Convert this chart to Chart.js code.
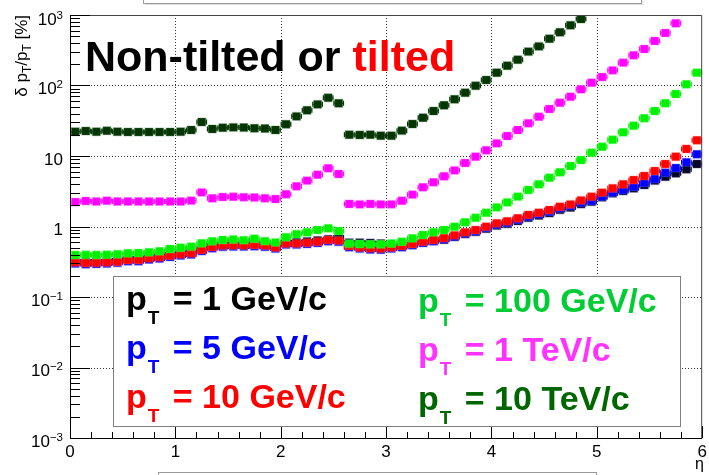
<!DOCTYPE html>
<html>
<head>
<meta charset="utf-8">
<title>Momentum resolution vs eta</title>
<script src="https://cdn.jsdelivr.net/npm/chart.js@4.4.1/dist/chart.umd.min.js"></script>
<style>
  html, body { margin: 0; padding: 0; background: #ffffff; }
  canvas { display: block; }
</style>
</head>
<body>
<canvas id="res" width="709" height="475"></canvas>
<script>
// eta bin centres (bin width 0.1)
const etaBins = [
  0.05, 0.15, 0.25, 0.35, 0.45, 0.55, 0.65, 0.75, 0.85, 0.95,
  1.05, 1.15, 1.25, 1.35, 1.45, 1.55, 1.65, 1.75, 1.85, 1.95,
  2.05, 2.15, 2.25, 2.35, 2.45, 2.55, 2.65, 2.75, 2.85, 2.95,
  3.05, 3.15, 3.25, 3.35, 3.45, 3.55, 3.65, 3.75, 3.85, 3.95,
  4.05, 4.15, 4.25, 4.35, 4.45, 4.55, 4.65, 4.75, 4.85, 4.95,
  5.05, 5.15, 5.25, 5.35, 5.45, 5.55, 5.65, 5.75, 5.85, 5.95
];
const etaHalfWidth = 0.05;

// relative pT resolution in percent, one array per pT value
const res1GeV = [
  0.322, 0.315, 0.318, 0.322, 0.330, 0.349, 0.349, 0.369, 0.381, 0.401,
  0.420, 0.434, 0.484, 0.533, 0.557, 0.562, 0.562, 0.569, 0.557, 0.526,
  0.598, 0.598, 0.613, 0.633, 0.660, 0.700, 0.590, 0.590, 0.585, 0.575,
  0.515, 0.525, 0.555, 0.595, 0.628, 0.650, 0.710, 0.780, 0.840, 0.930,
  1.03, 1.09, 1.20, 1.33, 1.43, 1.55, 1.72, 1.86, 2.08, 2.25,
  2.60, 2.96, 3.19, 3.48, 3.88, 4.47, 5.08, 5.68, 6.48, 7.70
];
const res5GeV = [
  0.298, 0.292, 0.294, 0.298, 0.305, 0.322, 0.322, 0.340, 0.352, 0.370,
  0.388, 0.401, 0.447, 0.492, 0.514, 0.519, 0.519, 0.526, 0.514, 0.486,
  0.553, 0.553, 0.566, 0.585, 0.619, 0.606, 0.508, 0.486, 0.472, 0.467,
  0.486, 0.508, 0.543, 0.585, 0.619, 0.659, 0.720, 0.795, 0.856, 0.953,
  1.06, 1.13, 1.25, 1.39, 1.49, 1.62, 1.81, 1.95, 2.18, 2.30,
  2.65, 3.02, 3.30, 3.67, 4.18, 4.72, 5.80, 6.76, 8.14, 10.6
];
const res10GeV = [
  0.310, 0.303, 0.305, 0.310, 0.317, 0.335, 0.335, 0.354, 0.366, 0.385,
  0.403, 0.417, 0.465, 0.512, 0.535, 0.540, 0.540, 0.547, 0.535, 0.505,
  0.575, 0.575, 0.589, 0.608, 0.644, 0.630, 0.528, 0.505, 0.491, 0.486,
  0.505, 0.528, 0.565, 0.608, 0.644, 0.685, 0.750, 0.828, 0.892, 0.993,
  1.11, 1.185, 1.31, 1.46, 1.57, 1.71, 1.91, 2.06, 2.35, 2.65,
  3.02, 3.48, 3.97, 4.57, 5.20, 6.12, 7.70, 9.78, 12.6, 16.7
];
const res100GeV = [
  0.394, 0.397, 0.394, 0.397, 0.405, 0.417, 0.420, 0.431, 0.446, 0.480,
  0.500, 0.518, 0.578, 0.617, 0.644, 0.655, 0.640, 0.671, 0.620, 0.595,
  0.705, 0.780, 0.828, 0.892, 0.943, 0.863, 0.571, 0.565, 0.560, 0.560,
  0.575, 0.608, 0.680, 0.757, 0.828, 0.892, 0.993, 1.146, 1.33, 1.57,
  1.87, 2.20, 2.65, 3.30, 3.97, 4.92, 5.87, 7.21, 8.77, 11.1,
  13.5, 17.0, 21.7, 26.9, 34.3, 43.5, 55.9, 75.7, 104, 152
];
const res1TeV = [
  2.22, 2.30, 2.26, 2.32, 2.26, 2.26, 2.26, 2.26, 2.26, 2.26,
  2.26, 2.33, 3.05, 2.51, 2.62, 2.64, 2.60, 2.58, 2.51, 2.45,
  2.87, 3.72, 4.47, 5.43, 6.70, 5.56, 2.09, 2.06, 2.09, 2.06,
  2.06, 2.32, 2.83, 3.60, 4.24, 5.15, 6.26, 7.96, 9.78, 12.05,
  15.1, 19.2, 23.4, 29.1, 36.1, 46.4, 57.0, 69.3, 88.3, 109.6,
  132, 164, 211, 268, 329, 428, 556, 762, null, null
];
const res10TeV = [
  22.1, 22.6, 22.1, 22.8, 22.1, 21.9, 21.9, 21.9, 21.9, 21.9,
  22.1, 23.4, 30.3, 24.2, 25.2, 25.5, 25.3, 24.7, 24.6, 23.4,
  28.2, 36.5, 44.5, 54.0, 67.0, 55.9, 20.0, 19.9, 20.0, 19.4,
  19.4, 22.9, 28.4, 34.9, 43.4, 52.4, 63.7, 79.0, 99.0, 119.7,
  152, 191, 232, 302, 359, 461, 569, 714, 877, null,
  null, null, null, null, null, null, null, null, null, null
];

// legend entries: pT value text
const legendLeft = ['1 GeV/c', '5 GeV/c', '10 GeV/c'];
const legendRight = ['100 GeV/c', '1 TeV/c', '10 TeV/c'];

// axis ticks
const xMajorTicks = [0, 1, 2, 3, 4, 5, 6];
const xTickLabels = ['0', '1', '2', '3', '4', '5', '6'];
const yDecades = [1e-3, 1e-2, 1e-1, 1, 10, 100, 1000];
const yTickLabels = [['10', '\u22123'], ['10', '\u22122'], ['10', '\u22121'], ['1', ''], ['10', ''], ['10', '2'], ['10', '3']];

const FONT = '"Liberation Sans", Arial, Helvetica, sans-serif';

// series drawn in this order: first one lies underneath
const seriesDefs = [
  { label: 'pT = 1 GeV/c',   values: res1GeV,   color: '#06062a', halo: 'rgba(60,60,120,0.35)',  text: '#000000' },
  { label: 'pT = 5 GeV/c',   values: res5GeV,   color: '#0000ff', halo: 'rgba(90,90,255,0.35)',  text: '#0000ff' },
  { label: 'pT = 10 GeV/c',  values: res10GeV,  color: '#ff0000', halo: 'rgba(255,90,90,0.35)',  text: '#ff0000' },
  { label: 'pT = 100 GeV/c', values: res100GeV, color: '#00f000', halo: 'rgba(90,255,90,0.35)',  text: '#00cc33' },
  { label: 'pT = 1 TeV/c',   values: res1TeV,   color: '#ff00ff', halo: 'rgba(255,110,255,0.35)', text: '#ff33ff' },
  { label: 'pT = 10 TeV/c',  values: res10TeV,  color: '#033503', halo: 'rgba(60,110,60,0.35)',  text: '#006600' }
];

const datasets = seriesDefs.map((s, i) => ({
  label: s.label,
  data: etaBins.map((eta, k) => ({ x: eta, y: s.values[k] })),
  showLine: false,
  pointStyle: 'rect',
  pointRadius: 5.6,
  pointHoverRadius: 5.6,
  pointBackgroundColor: s.color,
  pointBorderColor: s.halo,
  pointBorderWidth: 1.2,
  order: seriesDefs.length - i,
  barColor: s.color
}));

// draw rich text made of [text, size, dy, weight, extraGap] pieces
function richWidth(ctx, parts) {
  let w = 0;
  for (const p of parts) {
    ctx.font = `${p[3] || 'normal'} ${p[1]}px ${FONT}`;
    w += ctx.measureText(p[0]).width + (p[4] || 0);
  }
  return w;
}
function richText(ctx, x, y, parts, align, color) {
  const w = richWidth(ctx, parts);
  let cx = align === 'right' ? x - w : align === 'center' ? x - w / 2 : x;
  ctx.fillStyle = color;
  ctx.textBaseline = 'alphabetic';
  ctx.textAlign = 'left';
  for (const p of parts) {
    ctx.font = `${p[3] || 'normal'} ${p[1]}px ${FONT}`;
    ctx.fillText(p[0], cx, y + p[2]);
    cx += ctx.measureText(p[0]).width + (p[4] || 0);
  }
}

// horizontal bin-width bars behind each marker
const binBars = {
  id: 'binBars',
  beforeDatasetDraw(chart, args) {
    const ctx = chart.ctx;
    const ds = chart.data.datasets[args.index];
    const xs = chart.scales.x, ys = chart.scales.y;
    const area = chart.chartArea;
    ctx.save();
    ctx.beginPath();
    ctx.rect(area.left, area.top, area.right - area.left, area.bottom - area.top);
    ctx.clip();
    ctx.strokeStyle = ds.barColor;
    ctx.lineWidth = 1.3;
    for (const pt of ds.data) {
      if (pt.y == null) continue;
      const x1 = xs.getPixelForValue(pt.x - etaHalfWidth);
      const x2 = xs.getPixelForValue(pt.x + etaHalfWidth);
      const y = ys.getPixelForValue(pt.y);
      ctx.beginPath();
      ctx.moveTo(x1, y); ctx.lineTo(x2, y);
      ctx.moveTo(x1 + 0.5, y - 2.5); ctx.lineTo(x1 + 0.5, y + 2.5);
      ctx.moveTo(x2 - 0.5, y - 2.5); ctx.lineTo(x2 - 0.5, y + 2.5);
      ctx.stroke();
    }
    ctx.restore();
  }
};

// frame, grid, ticks, labels and annotations
const frameDecor = {
  id: 'frameDecor',
  beforeDatasetsDraw(chart) {
    const ctx = chart.ctx;
    const xs = chart.scales.x, ys = chart.scales.y;
    const a = chart.chartArea;
    ctx.save();
    ctx.strokeStyle = 'rgba(0,0,0,0.8)';
    ctx.lineWidth = 1;
    ctx.setLineDash([1, 2]);
    for (const v of xMajorTicks) {
      if (v <= xs.min || v >= xs.max) continue;
      const px = Math.round(xs.getPixelForValue(v)) + 0.5;
      ctx.beginPath(); ctx.moveTo(px, a.top); ctx.lineTo(px, a.bottom); ctx.stroke();
    }
    for (const v of yDecades) {
      if (v <= ys.min || v >= ys.max) continue;
      const py = Math.round(ys.getPixelForValue(v)) + 0.5;
      ctx.beginPath(); ctx.moveTo(a.left, py); ctx.lineTo(a.right, py); ctx.stroke();
    }
    ctx.restore();
  },
  afterDatasetsDraw(chart) {
    const ctx = chart.ctx;
    const xs = chart.scales.x, ys = chart.scales.y;
    const a = chart.chartArea;
    ctx.save();
    // frame
    ctx.lineWidth = 1;
    ctx.strokeStyle = '#444';
    ctx.beginPath();
    ctx.moveTo(a.left, a.top + 0.5); ctx.lineTo(a.right - 0.5, a.top + 0.5); ctx.lineTo(a.right - 0.5, a.bottom);
    ctx.stroke();
    ctx.strokeStyle = '#000';
    ctx.beginPath();
    ctx.moveTo(a.left + 0.5, a.top); ctx.lineTo(a.left + 0.5, a.bottom + 0.5); ctx.lineTo(a.right, a.bottom + 0.5);
    ctx.stroke();

    // x ticks: major every 1, minor every 0.2
    ctx.beginPath();
    for (let i = 0; i <= 30; i++) {
      const v = i * 0.2;
      const px = Math.round(xs.getPixelForValue(v)) + 0.5;
      const len = (i % 5 === 0) ? 12 : 6;
      ctx.moveTo(px, a.bottom); ctx.lineTo(px, a.bottom - len);
    }
    ctx.stroke();

    // y ticks: decades and 2..9 subdivisions
    ctx.beginPath();
    for (const d of yDecades) {
      for (let m = 1; m <= 9; m++) {
        const v = d * m;
        if (v > ys.max * 1.0001) break;
        const py = Math.round(ys.getPixelForValue(v)) + 0.5;
        const len = m === 1 ? 20 : 10;
        ctx.moveTo(a.left, py); ctx.lineTo(a.left + len, py);
      }
    }
    ctx.stroke();

    // x tick labels
    xMajorTicks.forEach((v, i) => {
      richText(ctx, xs.getPixelForValue(v), 456.5, [[xTickLabels[i], 17, 0]], 'center', '#000');
    });
    // y tick labels
    yDecades.forEach((v, i) => {
      const py = ys.getPixelForValue(v);
      const lab = yTickLabels[i];
      const base = py + (i === yDecades.length - 1 ? 10 : 8.5);
      const parts = [[lab[0], 17, 0]];
      if (lab[1]) parts.push([lab[1], 11.5, -6]);
      richText(ctx, 63, base, parts, 'right', '#000');
    });
    ctx.restore();
  },
  afterDraw(chart) {
    const ctx = chart.ctx;
    ctx.save();

    // boxes peeking in at the top and bottom edges
    ctx.strokeStyle = '#9a9a9a';
    ctx.lineWidth = 1;
    ctx.strokeRect(143.5, -5, 498, 8.5);
    ctx.strokeStyle = '#dcdcdc';
    ctx.beginPath(); ctx.moveTo(145, 4.5); ctx.lineTo(643, 4.5); ctx.lineTo(643, -1); ctx.stroke();
    ctx.strokeStyle = '#9a9a9a';
    ctx.strokeRect(158.5, 472.5, 438, 10);

    // legend box
    ctx.fillStyle = '#ffffff';
    ctx.fillRect(113.5, 276.5, 567, 150);
    ctx.strokeStyle = '#808080';
    ctx.strokeRect(113.5, 276.5, 567, 150);

    const rowsL = [309.5, 358.5, 407.5];
    const rowsR = [311.5, 360.5, 409.5];
    const entry = (x, y, val, color) => {
      richText(ctx, x, y, [
        ['p', 34, 0, 'bold', 1],
        ['T', 19, 14, 'bold', 4],
        [' = ' + val, 34, 0, 'bold']
      ], 'left', color);
    };
    legendLeft.forEach((t, i) => entry(126, rowsL[i], t, seriesDefs[i].text));
    legendRight.forEach((t, i) => entry(418, rowsR[i], t, seriesDefs[i + 3].text));

    // headline
    ctx.font = `bold 43px ${FONT}`;
    ctx.textBaseline = 'alphabetic';
    ctx.textAlign = 'left';
    ctx.fillStyle = '#000000';
    const head1 = 'Non-tilted or ';
    ctx.fillText(head1, 85, 71);
    ctx.fillStyle = '#ff0000';
    ctx.fillText('tilted', 85 + ctx.measureText(head1).width, 71);

    // axis titles
    richText(ctx, 704, 469, [['\u03b7', 16, 0]], 'right', '#000');
    ctx.translate(27, 15);
    ctx.rotate(-Math.PI / 2);
    richText(ctx, 0, 0, [
      ['\u03b4 p', 17, 0], ['T', 12, 4], ['/p', 17, 0], ['T', 12, 4], [' [%]', 17, 0]
    ], 'right', '#000');
    ctx.restore();
  }
};

new Chart(document.getElementById('res'), {
  type: 'scatter',
  data: { datasets },
  options: {
    responsive: false,
    animation: false,
    devicePixelRatio: 1,
    layout: { padding: { left: 70, right: 3, top: 15, bottom: 37 } },
    plugins: { legend: { display: false }, tooltip: { enabled: false } },
    scales: {
      x: { type: 'linear', min: 0, max: 6, display: false },
      y: { type: 'logarithmic', min: 1e-3, max: 1e3, display: false }
    }
  },
  plugins: [binBars, frameDecor]
});
</script>
</body>
</html>
